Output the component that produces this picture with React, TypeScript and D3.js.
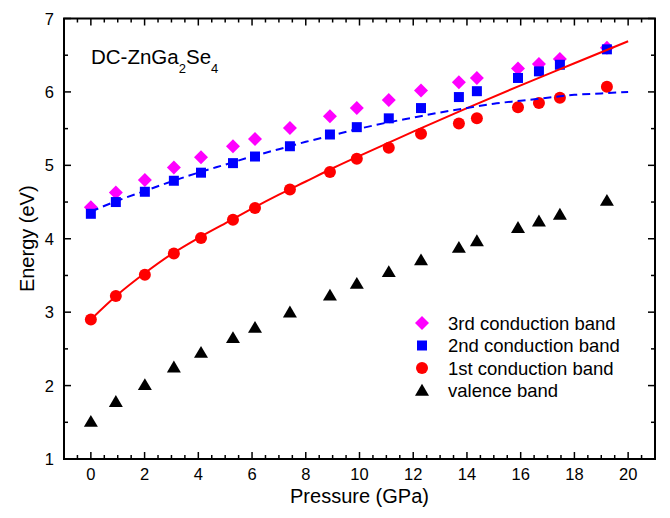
import React from "react";
import * as d3 from "d3";

const pressure = [0, 0.93, 2.01, 3.09, 4.1, 5.29, 6.11, 7.41, 8.9, 9.9, 11.09, 12.29, 13.7, 14.37, 15.9, 16.68, 17.46, 19.21];
const band3 = [4.43, 4.63, 4.8, 4.97, 5.11, 5.26, 5.36, 5.51, 5.67, 5.78, 5.89, 6.02, 6.13, 6.19, 6.32, 6.38, 6.45, 6.6];
const band2 = [4.34, 4.5, 4.64, 4.79, 4.9, 5.03, 5.12, 5.26, 5.42, 5.52, 5.64, 5.78, 5.93, 6.01, 6.19, 6.28, 6.37, 6.58];
const band1 = [2.9, 3.22, 3.51, 3.8, 4.01, 4.26, 4.42, 4.67, 4.91, 5.09, 5.24, 5.43, 5.57, 5.64, 5.79, 5.85, 5.92, 6.07];
const valence = [1.51, 1.78, 2.01, 2.25, 2.45, 2.65, 2.79, 3.0, 3.23, 3.39, 3.55, 3.71, 3.88, 3.97, 4.15, 4.24, 4.33, 4.52];

const fitP = [0, 1, 2, 3, 4, 5, 6, 7, 8, 9, 10, 12, 14, 16, 18, 20];
const fitRed = [2.9, 3.24, 3.53, 3.79, 4.01, 4.21, 4.41, 4.6, 4.78, 4.96, 5.13, 5.46, 5.78, 6.09, 6.39, 6.69];
const fitBlueP = [0, 1, 2, 3, 4, 5, 6, 7, 8, 9, 10, 11, 12, 13, 14, 15, 16, 17, 18, 19, 20];
const fitBlue = [4.37, 4.52, 4.65, 4.78, 4.9, 5.01, 5.12, 5.22, 5.32, 5.41, 5.5, 5.58, 5.65, 5.72, 5.78, 5.84, 5.88, 5.92, 5.96, 5.98, 6.0];

const xTicks = [0, 2, 4, 6, 8, 10, 12, 14, 16, 18, 20];
const yTicks = [1, 2, 3, 4, 5, 6, 7];
const legendLabels = ["3rd conduction band", "2nd conduction band", "1st conduction band", "valence band"];

const FONT = "'Liberation Sans', Arial, sans-serif";

export default function App() {
  const W = 670, H = 518;
  const left = 64, right = 655, top = 18.5, bottom = 459;
  const x = d3.scaleLinear().domain([-1, 21]).range([left, right]);
  const y = d3.scaleLinear().domain([1, 7]).range([bottom, top]);

  const xMinor = d3.range(-0.5, 21, 0.5).filter((v) => !xTicks.includes(v));
  const yMinor = d3.range(1.5, 7, 1);

  const line = d3.line<[number, number]>().x((d) => x(d[0])).y((d) => y(d[1])).curve(d3.curveMonotoneX);
  const redPath = line(fitP.map((p, i) => [p, fitRed[i]]));
  const bluePath = line(fitBlueP.map((p, i) => [p, fitBlue[i]]));

  const diamond = (cx: number, cy: number, r = 7) => `M${cx},${cy - r}L${cx + r},${cy}L${cx},${cy + r}L${cx - r},${cy}Z`;
  const square = (cx: number, cy: number, s = 5) => `M${cx - s},${cy - s}h${2 * s}v${2 * s}h${-2 * s}Z`;
  const tri = (cx: number, cy: number, s = 7) => `M${cx},${cy - s * 0.95}L${cx + s},${cy + s * 0.75}L${cx - s},${cy + s * 0.75}Z`;

  const legendX = 422, textX = 448, legendY0 = 323, legendDy = 22.5;

  return (
    <svg width={W} height={H} style={{ position: "absolute", left: 0, top: 0, background: "#fff" }} fontFamily={FONT}>
      <rect x={0} y={0} width={W} height={H} fill="#fff" />
      {pressure.map((p, i) => (
        <path key={"d" + i} d={diamond(x(p), y(band3[i]))} fill="#ff00ff" />
      ))}
      {pressure.map((p, i) => (
        <path key={"s" + i} d={square(x(p), y(band2[i]))} fill="#0000ff" />
      ))}
      {pressure.map((p, i) => (
        <circle key={"c" + i} cx={x(p)} cy={y(band1[i])} r={6} fill="#ff0000" />
      ))}
      {pressure.map((p, i) => (
        <path key={"t" + i} d={tri(x(p), y(valence[i]))} fill="#000" />
      ))}
      <path d={redPath || ""} fill="none" stroke="#ff0000" strokeWidth={2} />
      <path d={bluePath || ""} fill="none" stroke="#0000ff" strokeWidth={2} strokeDasharray="8,5" />

      <rect x={left} y={top} width={right - left} height={bottom - top} fill="none" stroke="#000" strokeWidth={2} />
      {xTicks.map((t) => (
        <g key={"xt" + t}>
          <line x1={x(t)} x2={x(t)} y1={bottom} y2={bottom - 7} stroke="#000" strokeWidth={1.5} />
          <line x1={x(t)} x2={x(t)} y1={top} y2={top + 7} stroke="#000" strokeWidth={1.5} />
          <text x={x(t)} y={480} textAnchor="middle" fontSize={16.5}>{t}</text>
        </g>
      ))}
      {xMinor.map((t) => (
        <g key={"xm" + t}>
          <line x1={x(t)} x2={x(t)} y1={bottom} y2={bottom - 4} stroke="#000" strokeWidth={1.5} />
          <line x1={x(t)} x2={x(t)} y1={top} y2={top + 4} stroke="#000" strokeWidth={1.5} />
        </g>
      ))}
      {yTicks.map((t) => (
        <g key={"yt" + t}>
          <line x1={left} x2={left + 7} y1={y(t)} y2={y(t)} stroke="#000" strokeWidth={1.5} />
          <line x1={right} x2={right - 7} y1={y(t)} y2={y(t)} stroke="#000" strokeWidth={1.5} />
          <text x={54} y={y(t) + 6} textAnchor="end" fontSize={16.5}>{t}</text>
        </g>
      ))}
      {yMinor.map((t) => (
        <g key={"ym" + t}>
          <line x1={left} x2={left + 4} y1={y(t)} y2={y(t)} stroke="#000" strokeWidth={1.5} />
          <line x1={right} x2={right - 4} y1={y(t)} y2={y(t)} stroke="#000" strokeWidth={1.5} />
        </g>
      ))}
      <text x={(left + right) / 2} y={503} textAnchor="middle" fontSize={20}>Pressure (GPa)</text>
      <text transform={`translate(34,${(top + bottom) / 2}) rotate(-90)`} textAnchor="middle" fontSize={20}>Energy (eV)</text>

      <text x={91} y={64} fontSize={20.5}>
        DC-ZnGa<tspan fontSize={13} dy={9}>2</tspan>
        <tspan dy={-9}>Se</tspan>
        <tspan fontSize={13} dy={9}>4</tspan>
      </text>

      <path d={diamond(legendX, legendY0, 7)} fill="#ff00ff" />
      <path d={square(legendX, legendY0 + legendDy, 5)} fill="#0000ff" />
      <circle cx={legendX} cy={legendY0 + 2 * legendDy} r={6} fill="#ff0000" />
      <path d={tri(legendX, legendY0 + 3 * legendDy, 7)} fill="#000" />
      {legendLabels.map((l, i) => (
        <text key={l} x={textX} y={legendY0 + i * legendDy + 6.5} fontSize={18.5}>{l}</text>
      ))}
    </svg>
  );
}
